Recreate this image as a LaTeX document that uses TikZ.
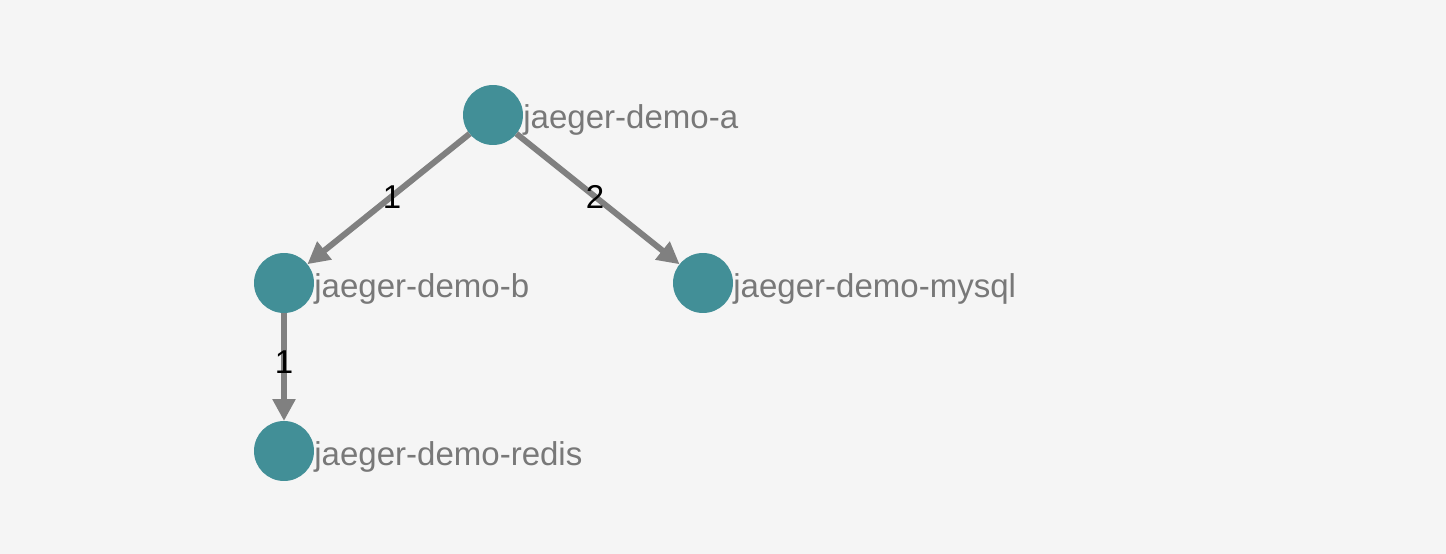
\documentclass[tikz,border=0pt]{standalone}
\usepackage{fontspec}
\setmainfont{Liberation Sans}
\usetikzlibrary{arrows.meta}
\definecolor{bgcol}{HTML}{F5F5F5}
\definecolor{svccol}{HTML}{428F97}
\definecolor{edgecol}{HTML}{808080}
\definecolor{namecol}{HTML}{787878}
\tikzset{>={Triangle[length=0.44cm,width=0.44cm]}}
\tikzset{
  svc/.style={circle,fill=svccol,minimum size=1.2cm,inner sep=0pt,outer sep=0pt},
  svcname/.style={anchor=base west,inner sep=0pt,text=namecol,
    font=\fontsize{18.8pt}{22pt}\selectfont},
  call/.style={->,draw=edgecol,line width=0.12cm},
  count/.style={midway,inner sep=0pt,font=\fontsize{18.8pt}{22pt}\selectfont}
}
\begin{document}
\begin{tikzpicture}[x=0.02cm,y=-0.02cm]
    \fill[bgcol] (0,0) rectangle (1446,554);
    \useasboundingbox (0,0) rectangle (1446,554);
    % services
    \node[svc] (a) at (493,115) {};
    \node[svc] (b) at (284,283) {};
    \node[svc] (mysql) at (703,283) {};
    \node[svc] (redis) at (284,451) {};
    \node[svcname] (a-name) at ([yshift=-0.28cm]a.east) {jaeger-demo-a};
    \node[svcname] (b-name) at ([yshift=-0.28cm]b.east) {jaeger-demo-b};
    \node[svcname] (mysql-name) at ([yshift=-0.28cm]mysql.east) {jaeger-demo-mysql};
    \node[svcname] (redis-name) at ([yshift=-0.28cm]redis.east) {jaeger-demo-redis};
    % calls
    \draw[call] (a) -- node[count,xshift=0.07cm,yshift=0.04cm] (ab) {1} (b);
    \draw[call] (a) -- node[count,xshift=-0.06cm,yshift=0.04cm] (am) {2} (mysql);
    \draw[call] (b) -- node[count,yshift=0.1cm] (br) {1} (redis);
\end{tikzpicture}
\end{document}
